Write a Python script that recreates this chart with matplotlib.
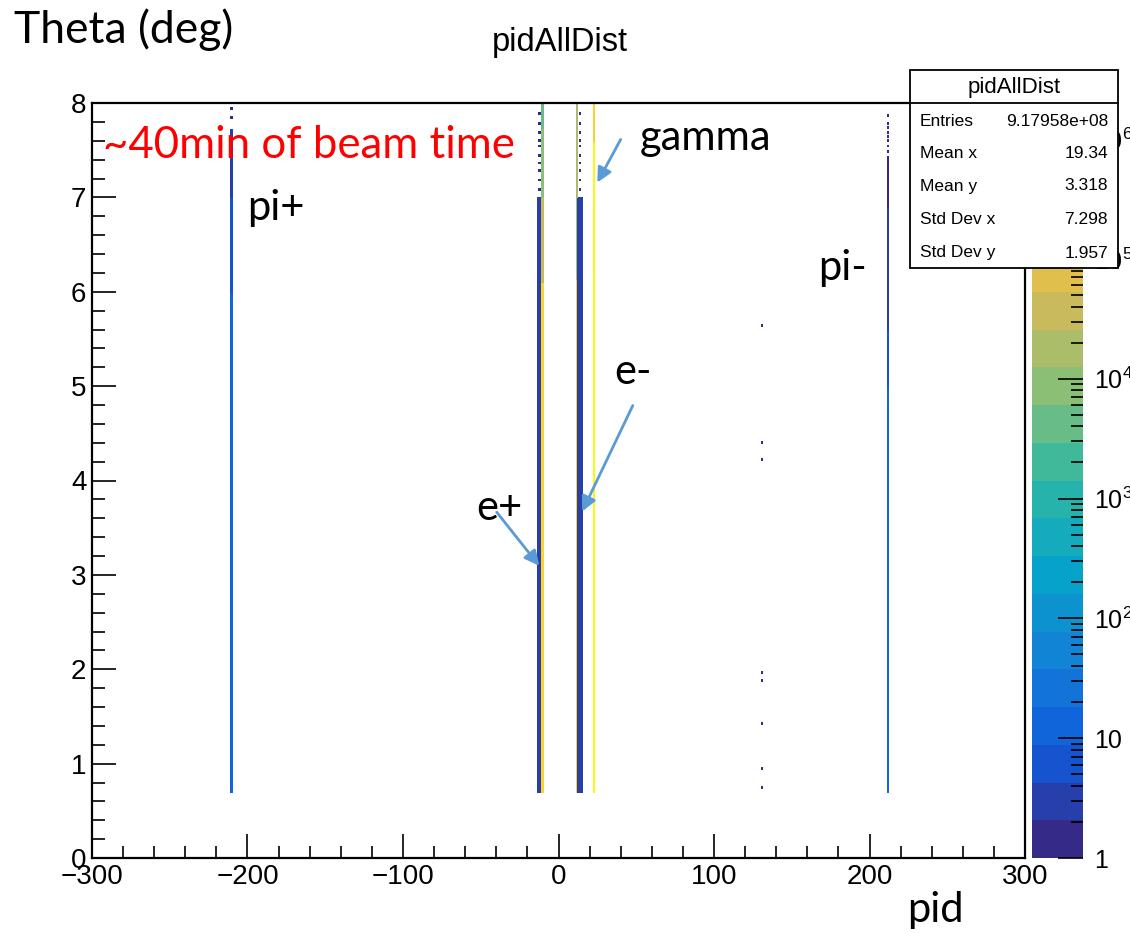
import numpy as np
import matplotlib
matplotlib.use("Agg")
import matplotlib.pyplot as plt
from matplotlib.colors import LinearSegmentedColormap, ListedColormap, BoundaryNorm
from matplotlib.patches import Rectangle, FancyArrowPatch
from matplotlib.ticker import MultipleLocator, FixedLocator, FixedFormatter, NullFormatter

plt.rcParams["mathtext.fontset"] = "custom"
plt.rcParams["mathtext.rm"] = "Liberation Sans"
plt.rcParams["mathtext.it"] = "Liberation Sans:italic"

# --- data ----------------------------------------------------------------
# each column: pid bin, list of (theta_lo, theta_hi, counts per bin)
pi_plus_segs = [(0.70, 6.00, 14), (6.00, 7.00, 6), (7.00, 7.72, 3)]
pi_plus_dots = [7.86, 7.96]
pi_minus_segs = [(0.70, 5.00, 14), (5.00, 5.60, 6), (5.60, 6.90, 3), (6.90, 7.45, 2)]
pi_minus_dots = [7.50, 7.56, 7.62, 7.66, 7.70, 7.76, 7.80, 7.88]
eplus_segs = [(0.70, 6.10, 2.5e5), (6.10, 7.00, 3e4), (7.00, 7.75, 1e4), (7.75, 8.00, 3e3)]
eminus_segs = [(0.70, 6.15, 2.5e5), (6.15, 8.00, 2.5e4)]
gamma_segs = [(0.70, 7.60, 1.3e6), (7.60, 8.00, 4e5)]
mu_segs = [(0.70, 7.00, 3)]
mu_dots = [7.10, 7.20, 7.30, 7.38, 7.45, 7.55, 7.62, 7.70, 7.80, 7.90]
k0_dots = [0.76, 0.95, 1.43, 1.90, 1.97, 4.24, 4.41, 5.66]

columns = {
    -211: (pi_plus_segs, pi_plus_dots),
    211: (pi_minus_segs, pi_minus_dots),
    -14: (mu_segs, []),
    -13: (mu_segs, mu_dots),
    -12: (mu_segs, []),
    -11: (eplus_segs, []),
    11: (eminus_segs, []),
    12: (mu_segs, []),
    13: (mu_segs, mu_dots),
    14: (mu_segs, []),
    22: (gamma_segs, []),
    130: ([], k0_dots),
}

stats_names = ["Entries", "Mean x", "Mean y", "Std Dev x", "Std Dev y"]
stats_vals = ["9.17958e+08", "19.34", "3.318", "7.298", "1.957"]

zmax = 2e6
ncont = 20

# --- histogram ------------------------------------------------------------
xedges = np.arange(-300, 301, 1.0)
yedges = np.arange(0, 8.0001, 0.02)
ycent = 0.5 * (yedges[:-1] + yedges[1:])
H = np.zeros((len(yedges) - 1, len(xedges) - 1))
for pid, (segs, dots) in columns.items():
    ix = np.searchsorted(xedges, pid, side="right") - 1
    for lo, hi, c in segs:
        H[(ycent >= lo) & (ycent < hi), ix] = c
    for d in dots:
        H[np.searchsorted(yedges, d) - 1, ix] = 1
Hm = np.ma.masked_where(H <= 0, H)

# ROOT kBird palette
bird = [(0.2082, 0.1664, 0.5293), (0.0592, 0.3599, 0.8684), (0.0780, 0.5041, 0.8385),
        (0.0232, 0.6419, 0.7914), (0.1802, 0.7178, 0.6425), (0.5301, 0.7492, 0.4662),
        (0.8186, 0.7328, 0.3499), (0.9956, 0.7862, 0.1968), (0.9764, 0.9832, 0.0539)]
bird_cmap = LinearSegmentedColormap.from_list("bird", bird)
band_colors = [bird_cmap(k / (ncont - 1)) for k in range(ncont)]
cmap = ListedColormap(band_colors)
levels = np.logspace(0, np.log10(zmax), ncont + 1)
norm = BoundaryNorm(levels, ncont)

W, Hpx = 1130, 933
fig = plt.figure(figsize=(11.3, 9.33), dpi=100)

def fx(x):
    return x / W

def fy(y):
    return 1 - y / Hpx

root_font = ["Liberation Sans Narrow", "Liberation Sans", "DejaVu Sans"]
ppt_font = ["Lato", "DejaVu Sans"]

ax = fig.add_axes([fx(92), fy(858), fx(1025) - fx(92), fy(103) - fy(858)])
ax.pcolormesh(xedges, yedges, Hm, cmap=cmap, norm=norm, edgecolors="face", linewidth=0.6)
ax.set_xlim(-300, 300)
ax.set_ylim(0, 8)
ax.xaxis.set_major_locator(MultipleLocator(100))
ax.xaxis.set_minor_locator(MultipleLocator(20))
ax.yaxis.set_major_locator(MultipleLocator(1))
ax.yaxis.set_minor_locator(MultipleLocator(0.2))
ax.tick_params(which="both", direction="in", top=False, right=False, width=1.2, color="black")
ax.tick_params(which="major", length=17, labelsize=20, pad=4)
ax.tick_params(which="minor", length=9)
for lab in ax.get_xticklabels() + ax.get_yticklabels():
    lab.set_family(root_font)
for s in ax.spines.values():
    s.set_linewidth(1.6)

# colour bar drawn from the same levels
cax = fig.add_axes([fx(1032), fy(858), fx(1083) - fx(1032), fy(103) - fy(858)])
cax.pcolormesh([0, 1], levels, np.arange(ncont).reshape(-1, 1), cmap=cmap,
               norm=BoundaryNorm(np.arange(ncont + 1) - 0.5, ncont))
cax.set_yscale("log")
cax.set_ylim(1, zmax)
cax.set_xlim(0, 1)
cax.set_xticks([])
cax.yaxis.tick_right()
cax.yaxis.set_major_locator(FixedLocator([1, 10, 1e2, 1e3, 1e4, 1e5, 1e6]))
cax.yaxis.set_major_formatter(FixedFormatter(["1", "10", "$10^{2}$", "$10^{3}$", "$10^{4}$",
                                              "$10^{5}$", "$10^{6}$"]))
minor = [m * 10 ** e for e in range(0, 7) for m in range(2, 10) if m * 10 ** e < zmax]
cax.yaxis.set_minor_locator(FixedLocator(minor))
cax.yaxis.set_minor_formatter(NullFormatter())
cax.tick_params(which="both", direction="in", width=1.2, labelsize=18, pad=8)
cax.tick_params(which="major", length=18)
cax.tick_params(which="minor", length=9)
for lab in cax.get_yticklabels():
    lab.set_family(root_font)
for s in cax.spines.values():
    s.set_visible(False)

# titles and axis labels
fig.text(fx(560), fy(42), "pidAllDist", ha="center", va="center", fontsize=23.5, family=root_font)
fig.text(fx(14), fy(30), "Theta (deg)", ha="left", va="center", fontsize=32, family=ppt_font)
fig.text(fx(907), fy(910), "pid", ha="left", va="center", fontsize=30, family=ppt_font)

# stats box
fig.add_artist(Rectangle((fx(910), fy(268)), fx(1118) - fx(910), fy(70) - fy(268),
                         transform=fig.transFigure, facecolor="white", edgecolor="black",
                         linewidth=1.3, zorder=10))
fig.add_artist(plt.Line2D([fx(910), fx(1118)], [fy(103), fy(103)], transform=fig.transFigure,
                          color="black", linewidth=1.3, zorder=11))
fig.text(fx(1014), fy(87), "pidAllDist", ha="center", va="center", fontsize=16,
         family=root_font, zorder=12)
row_y = [121, 154, 186, 219, 253]
for name, val, yy in zip(stats_names, stats_vals, row_y):
    fig.text(fx(920), fy(yy), name, ha="left", va="center", fontsize=12.5,
             family=root_font, zorder=12)
    fig.text(fx(1108), fy(yy), val, ha="right", va="center", fontsize=12.5,
             family=root_font, zorder=12)

# annotations
fig.text(fx(103), fy(146), "~40min of beam time", ha="left", va="center", fontsize=31.5,
         color="#ff0000", family=ppt_font)
notes = [("pi+", 247, 208), ("pi-", 818, 268), ("gamma", 640, 138), ("e-", 614, 372), ("e+", 476, 508)]
for txt, x, y in notes:
    fig.text(fx(x), fy(y), txt, ha="left", va="center", fontsize=30, family=ppt_font)

arrows = [((622, 137), (596, 185)), ((634, 403), (581, 514)), ((495, 510), (541, 568))]
for (x0, y0), (x1, y1) in arrows:
    fig.add_artist(FancyArrowPatch((fx(x0), fy(y0)), (fx(x1), fy(y1)), transform=fig.transFigure,
                                   arrowstyle="-|>", mutation_scale=22, color="#5b9bd5",
                                   linewidth=2, zorder=9))

fig.savefig("out.png", dpi=100)
